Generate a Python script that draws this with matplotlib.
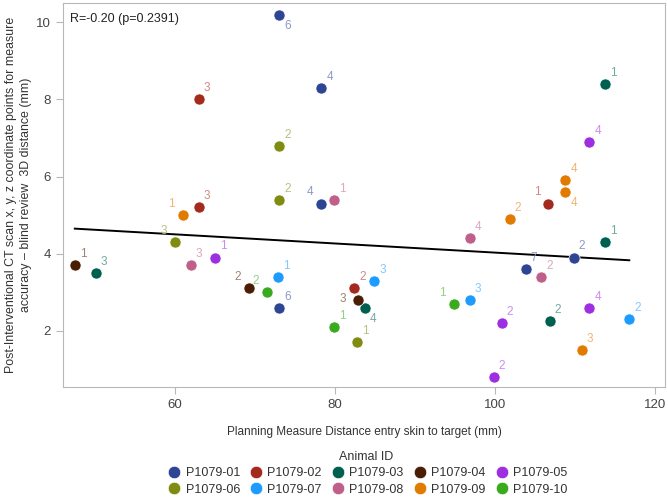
import matplotlib.pyplot as plt
import matplotlib.colors as mcolors
from matplotlib.lines import Line2D

plt.rcParams['font.family'] = ['Liberation Sans', 'DejaVu Sans']

animals = ['P1079-01', 'P1079-02', 'P1079-03', 'P1079-04', 'P1079-05',
           'P1079-06', 'P1079-07', 'P1079-08', 'P1079-09', 'P1079-10']
colors = ['#2E4593', '#A42A1E', '#00604F', '#4A1E04', '#9E2FE0',
          '#7F8C0F', '#1E9BFF', '#C0608A', '#E07B00', '#3AAA1E']

# per point: animal index, planning distance, 3D distance, point label
pt_animal = [0, 0, 0, 0, 0, 0,
             1, 1, 1, 1,
             2, 2, 2, 2, 2,
             3, 3, 3,
             4, 4, 4, 4, 4,
             5, 5, 5, 5,
             6, 6, 6, 6,
             7, 7, 7, 7,
             8, 8, 8, 8, 8,
             9, 9, 9]
pt_x = [73.0, 78.3, 78.3, 73.0, 103.8, 109.8,
        63.0, 63.0, 106.6, 82.4,
        113.75, 113.75, 50.1, 83.75, 106.8,
        47.5, 69.2, 82.9,
        111.75, 65.0, 111.75, 100.8, 99.8,
        73.0, 73.0, 60.0, 82.7,
        72.9, 84.9, 96.8, 116.75,
        79.9, 62.0, 96.8, 105.75,
        108.75, 108.75, 61.0, 101.8, 110.8,
        71.5, 79.9, 94.8]
pt_y = [10.2, 8.3, 5.3, 2.6, 3.6, 3.9,
        8.0, 5.2, 5.3, 3.1,
        8.4, 4.3, 3.5, 2.6, 2.25,
        3.7, 3.1, 2.8,
        6.9, 3.9, 2.6, 2.2, 0.8,
        6.8, 5.4, 4.3, 1.7,
        3.4, 3.3, 2.8, 2.3,
        5.4, 3.7, 4.4, 3.4,
        5.9, 5.6, 5.0, 4.9, 1.5,
        3.0, 2.1, 2.7]
pt_label = ['6', '4', '4', '6', '7', '2',
            '3', '3', '1', '2',
            '1', '1', '3', '4', '2',
            '1', '2', '3',
            '4', '1', '4', '2', '2',
            '2', '2', '3', '1',
            '1', '3', '3', '2',
            '1', '3', '4', '2',
            '4', '4', '1', '2', '3',
            '2', '1', '1']
# label placement relative to point (ur = upper right default)
pt_pos = ['lr', 'ur', 'ul', 'ur', 'ur', 'ur',
          'ur', 'ur', 'ul', 'ur',
          'ur', 'ur', 'ur', 'lr', 'ur',
          'ur', 'ul', 'l',
          'ur', 'ur', 'ur', 'ur', 'ur',
          'ur', 'ur', 'ul', 'ur',
          'ur', 'ur', 'ur', 'ur',
          'ur', 'ur', 'ur', 'ur',
          'ur', 'lr', 'ul', 'ur', 'ur',
          'ul', 'ur', 'ul']

# regression line end points
fit_x = [47.5, 116.75]
fit_y = [4.65, 3.83]

offsets = {'ur': (6, 8), 'lr': (6, -8), 'ul': (-8, 8), 'l': (-11, 1)}

fig = plt.figure(figsize=(6.68, 5.01), dpi=100)
ax = fig.add_axes([0.094, 0.228, 0.902, 0.766])

ax.plot(fit_x, fit_y, color='black', lw=1.4, zorder=2)

for i in range(len(pt_x)):
    c = colors[pt_animal[i]]
    ax.scatter(pt_x[i], pt_y[i], s=64, color=c, edgecolor='white',
               linewidth=0.5, zorder=3)
    lc = [0.55 * v + 0.45 for v in mcolors.to_rgb(c)]
    ax.annotate(pt_label[i], (pt_x[i], pt_y[i]), xytext=offsets[pt_pos[i]],
                textcoords='offset points', ha='center', va='center',
                fontsize=8.5, color=lc)

ax.text(0.012, 0.975, 'R=-0.20 (p=0.2391)', transform=ax.transAxes,
        ha='left', va='top', fontsize=9, color='#222222')

ax.set_xlim(46.0, 121.25)
ax.set_ylim(0.55, 10.5)
ax.set_xticks([60, 80, 100, 120])
ax.set_yticks([2, 4, 6, 8, 10])
for s in ax.spines.values():
    s.set_color('#B8B8B8')
ax.tick_params(colors='#B8B8B8', labelcolor='#444444', labelsize=9.5, length=5)

ax.set_xlabel('Planning Measure Distance entry skin to target (mm)',
              fontsize=8.5, color='#333333', labelpad=11)
fig.text(0.028, 1 - 195 / 501,
         'Post-Interventional CT scan x, y, z coordinate points for measure\n'
         'accuracy \u2013 blind review  3D distance (mm)',
         rotation=90, ha='center', va='center', multialignment='center',
         fontsize=8.9, color='#333333', linespacing=1.3)

# legend filled row by row
order = [0, 5, 1, 6, 2, 7, 3, 8, 4, 9]
handles = [Line2D([], [], marker='o', ls='', markersize=9, color=colors[k],
                  markeredgecolor='white', markeredgewidth=0.5) for k in order]
leg = fig.legend(handles, [animals[k] for k in order], loc='lower center',
                 ncol=5, bbox_to_anchor=(0.548, -0.012), frameon=False,
                 fontsize=9, title='Animal ID', title_fontsize=9,
                 handletextpad=0.15, columnspacing=0.55, labelspacing=0.35,
                 handlelength=1.5)
for t in leg.get_texts():
    t.set_color('#333333')
leg.get_title().set_color('#333333')

fig.savefig('out.png', dpi=100)
